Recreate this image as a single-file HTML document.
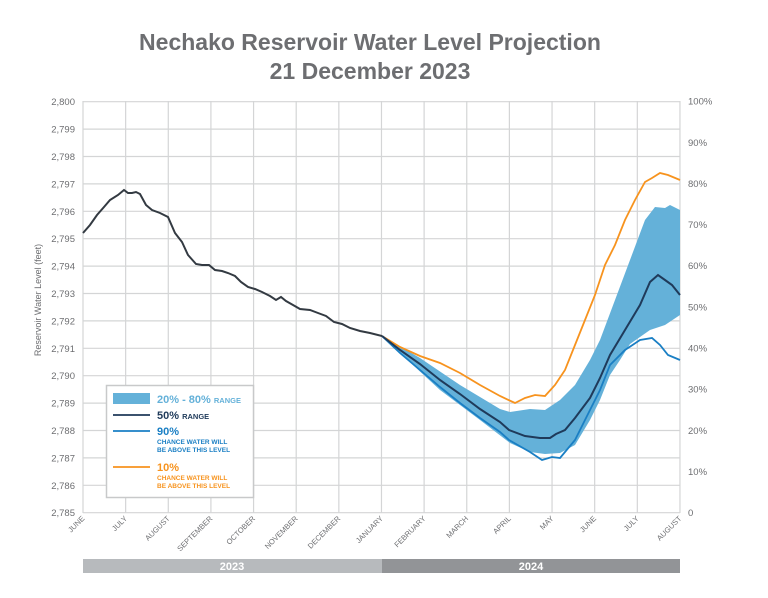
<!DOCTYPE html><html><head><style>body{margin:0;background:#fff}svg{font-family:"Liberation Sans",sans-serif}</style></head><body>
<svg width="768" height="593" viewBox="0 0 768 593">
<text x="370" y="50" text-anchor="middle" font-size="23" font-weight="bold" fill="#6d6e71">Nechako Reservoir Water Level Projection</text>
<text x="370" y="79" text-anchor="middle" font-size="23" font-weight="bold" fill="#6d6e71">21 December 2023</text>
<g stroke="#d4d5d6" stroke-width="1.2" id="grid"></g>
<g font-size="9.5" fill="#6d6e71" id="lab"></g>
<text transform="translate(41,300) rotate(-90)" text-anchor="middle" font-size="9" fill="#6d6e71">Reservoir Water Level (feet)</text>
<polygon fill="#64b1d9" points="382,336 420,358 460,385 500,409 510,412 530,409 545,410 560,400 575,385 590,360 600,340 615,300 630,260 645,220 655,207 665,208 670,205 680,210 680,315 665,325 650,330 640,337 630,344 620,360 610,375 600,400 590,420 575,445 560,453 545,454 530,452 510,443 480,420 440,390 400,353"/>
<polyline fill="none" stroke="#f7931e" stroke-width="1.8" points="382,336 400,347 420,356 440,363 460,373 480,385 500,396 515,403 525,398 535,395 545,396 555,385 565,370 575,345 585,320 595,295 605,265 615,245 625,220 635,200 645,182 652,178 660,173 668,175 680,180"/>
<polyline fill="none" stroke="#1a7fc4" stroke-width="1.8" points="382,336 400,353 420,370 440,387 460,403 480,418 500,432 509,440 530,452 542,460 552,457 560,458 565,452 575,440 585,420 600,390 610,365 625,350 640,340 652,338 660,345 668,355 680,360"/>
<polyline fill="none" stroke="#1f3a5a" stroke-width="2" points="382,336 400,350 420,364 440,380 460,394 480,409 500,422 509,430 525,436 540,438 550,438 556,434 565,430 575,418 590,398 600,378 610,355 625,330 640,305 650,282 658,275 665,280 672,285 680,295"/>
<polyline fill="none" stroke="#333a42" stroke-width="2" points="83,233 90,225 97,215 104,207 110,200 118,195 124,190 128,193 132,193 136,192 140,194 146,205 152,210 160,213 168,217 175,233 182,242 188,255 196,264 202,265 209,265 215,270 222,271 228,273 235,276 241,282 248,287 255,289 262,292 270,296 276,300 281,297 286,301 293,305 300,309 310,310 318,313 326,316 334,322 342,324 350,328 360,331 370,333 382,336"/>
<rect x="106.5" y="385.5" width="147" height="112" fill="#fff" stroke="#c8c9ca" stroke-width="1.5"/>
<rect x="113" y="393" width="37" height="11" fill="#64b1d9"/>
<text x="157" y="403" font-size="11" font-weight="bold" fill="#64b1d9">20% - 80% <tspan font-size="7.5">RANGE</tspan></text>
<line x1="113" y1="415" x2="150" y2="415" stroke="#1f3a5a" stroke-width="1.8"/>
<text x="157" y="419" font-size="11" font-weight="bold" fill="#1f3a5a">50% <tspan font-size="7.5">RANGE</tspan></text>
<line x1="113" y1="431" x2="150" y2="431" stroke="#1a7fc4" stroke-width="1.8"/>
<text x="157" y="435" font-size="11" font-weight="bold" fill="#1a7fc4">90%</text>
<text x="157" y="444" font-size="6.5" font-weight="bold" fill="#1a7fc4">CHANCE WATER WILL</text>
<text x="157" y="452" font-size="6.5" font-weight="bold" fill="#1a7fc4">BE ABOVE THIS LEVEL</text>
<line x1="113" y1="467" x2="150" y2="467" stroke="#f7931e" stroke-width="1.8"/>
<text x="157" y="471" font-size="11" font-weight="bold" fill="#f7931e">10%</text>
<text x="157" y="480" font-size="6.5" font-weight="bold" fill="#f7931e">CHANCE WATER WILL</text>
<text x="157" y="488" font-size="6.5" font-weight="bold" fill="#f7931e">BE ABOVE THIS LEVEL</text>
<rect x="83" y="559" width="299" height="14" fill="#b7babd"/>
<rect x="382" y="559" width="298" height="14" fill="#929497"/>
<text x="232" y="570" text-anchor="middle" font-size="11" font-weight="bold" fill="#fff">2023</text>
<text x="531" y="570" text-anchor="middle" font-size="11" font-weight="bold" fill="#fff">2024</text>
</svg>
<script>
var ns="http://www.w3.org/2000/svg",g=document.getElementById("grid"),l=document.getElementById("lab");
function el(p,t,a,txt){var e=document.createElementNS(ns,t);for(var k in a)e.setAttribute(k,a[k]);if(txt)e.textContent=txt;p.appendChild(e);}
for(var i=0;i<=15;i++){var y=512.7-i*27.4;el(g,"line",{x1:83,x2:680,y1:y,y2:y});el(l,"text",{x:75,y:y+3.5,"text-anchor":"end"},"2,"+(785+i));}
for(var i=0;i<=10;i++){var y=512.7-i*41.16;el(l,"text",{x:688,y:y+3.5},i?i*10+"%":"0");}
var m=["JUNE","JULY","AUGUST","SEPTEMBER","OCTOBER","NOVEMBER","DECEMBER","JANUARY","FEBRUARY","MARCH","APRIL","MAY","JUNE","JULY","AUGUST"];
for(var i=0;i<15;i++){var x=83+i*42.64;el(g,"line",{x1:x,x2:x,y1:101,y2:513});el(l,"text",{transform:"translate("+(x+2)+",519) rotate(-45)","text-anchor":"end","font-size":"7.5"},m[i]);}
</script>
</body></html>
